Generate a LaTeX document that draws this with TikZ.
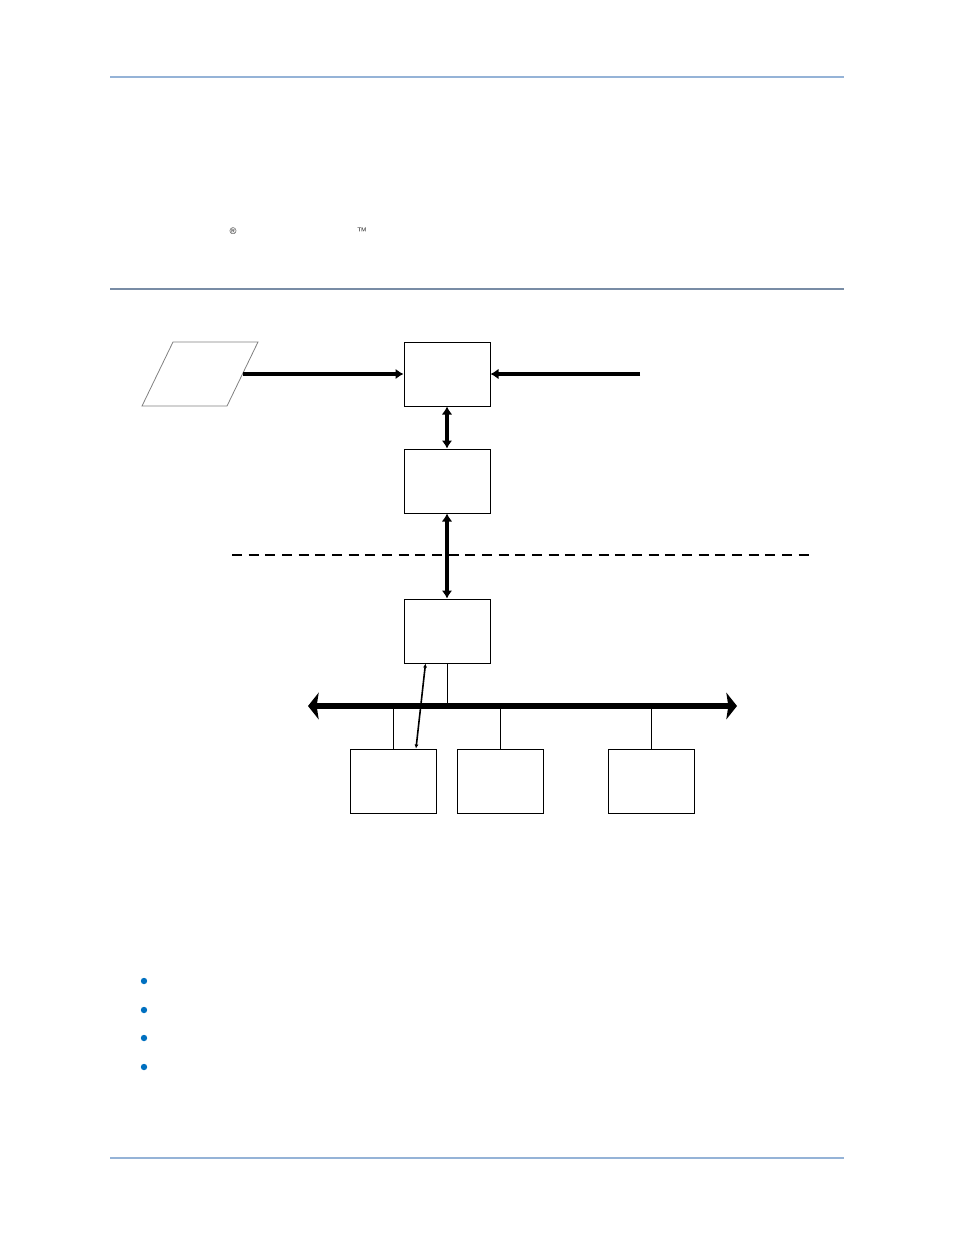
\documentclass[tikz,border=0pt]{standalone}
\usepackage{tikz}
\usetikzlibrary{arrows.meta}
\definecolor{regle}{RGB}{149,179,215}
\definecolor{regleb}{RGB}{120,140,165}
\definecolor{puce}{RGB}{0,112,192}

\begin{document}
\begin{tikzpicture}[x=0.75pt,y=-0.75pt]
% style des noeuds
\tikzstyle{bloc} = [rectangle, draw, line width=0.75pt, minimum width=64.5pt, minimum height=48pt, inner sep=0pt]
\tikzstyle{entree} = [rectangle, draw=gray, line width=0.6pt, transform shape, xslant=0.484, minimum width=63.75pt, minimum height=48pt, inner sep=0pt]
% style des flèches
\tikzstyle{suite} = [-{Latex[length=6pt,width=8pt]}, line width=3pt]
\tikzstyle{double} = [{Latex[length=6pt,width=8pt]}-{Latex[length=6pt,width=8pt]}, line width=3pt]
\tikzstyle{bus} = [{Stealth[length=8pt,width=20pt,inset=1.5pt]}-{Stealth[length=8pt,width=20pt,inset=1.5pt]}, line width=5.2pt]
\tikzstyle{lien} = [line width=0.75pt]

\useasboundingbox (0,0) rectangle (954,1235);

%% filets de la page
\draw[regle, line width=1.3pt] (110,77) -- (844,77);
\draw[regleb, line width=0.8pt] (110,289) -- (844,289);
\draw[regle, line width=1.3pt] (110,1158) -- (844,1158);
\node[font=\fontsize{7}{8}\sffamily, inner sep=0pt] (marque) at (233,231) {\textregistered};
\node[font=\fontsize{7}{8}\sffamily, inner sep=0pt] (tm) at (362,231) {\texttrademark};

%% placement des noeuds
\node[entree] (saisie) at (200,374) {};
\node[bloc] (hote) at (447,374) {};
\node[bloc] (passerelle) at (447,481) {};
\node[bloc] (controleur) at (447,631) {};
\node[bloc] (esclave1) at (393.5,781) {};
\node[bloc] (esclave2) at (500.5,781) {};
\node[bloc] (esclave3) at (651,781) {};
\coordinate (source) at (640,374);
\coordinate (busG) at (308,706);
\coordinate (busD) at (737,706);
\coordinate (tiretG) at (232,555);
\coordinate (tiretD) at (810,555);
%
%% placement des flèches
\draw[suite] (saisie.east) -- (hote.west);
\draw[suite] (source) -- (hote.east);
\draw[double] (hote) -- (passerelle);
\draw[double] (passerelle) -- (controleur);
\draw[dashed, dash pattern=on 7.5pt off 5pt, line width=1.4pt] (tiretG) -- (tiretD);
\draw[bus] (busG) -- (busD);
\draw[lien] (controleur.south) -- (controleur.south |- busG);
\foreach \n in {esclave1,esclave2,esclave3}
  \draw[lien] (\n.north) -- (\n.north |- busG);
\draw[{Latex[length=3pt,width=3pt]}-{Latex[length=3pt,width=3pt]}, line width=1.2pt]
  ([xshift=16.5pt]controleur.south west) -- ([xshift=-15.75pt]esclave1.north east);

%% puces
\foreach \y in {981,1010,1038,1067}
  \fill[puce] (144,\y) circle (2.4pt);
\end{tikzpicture}
\end{document}
